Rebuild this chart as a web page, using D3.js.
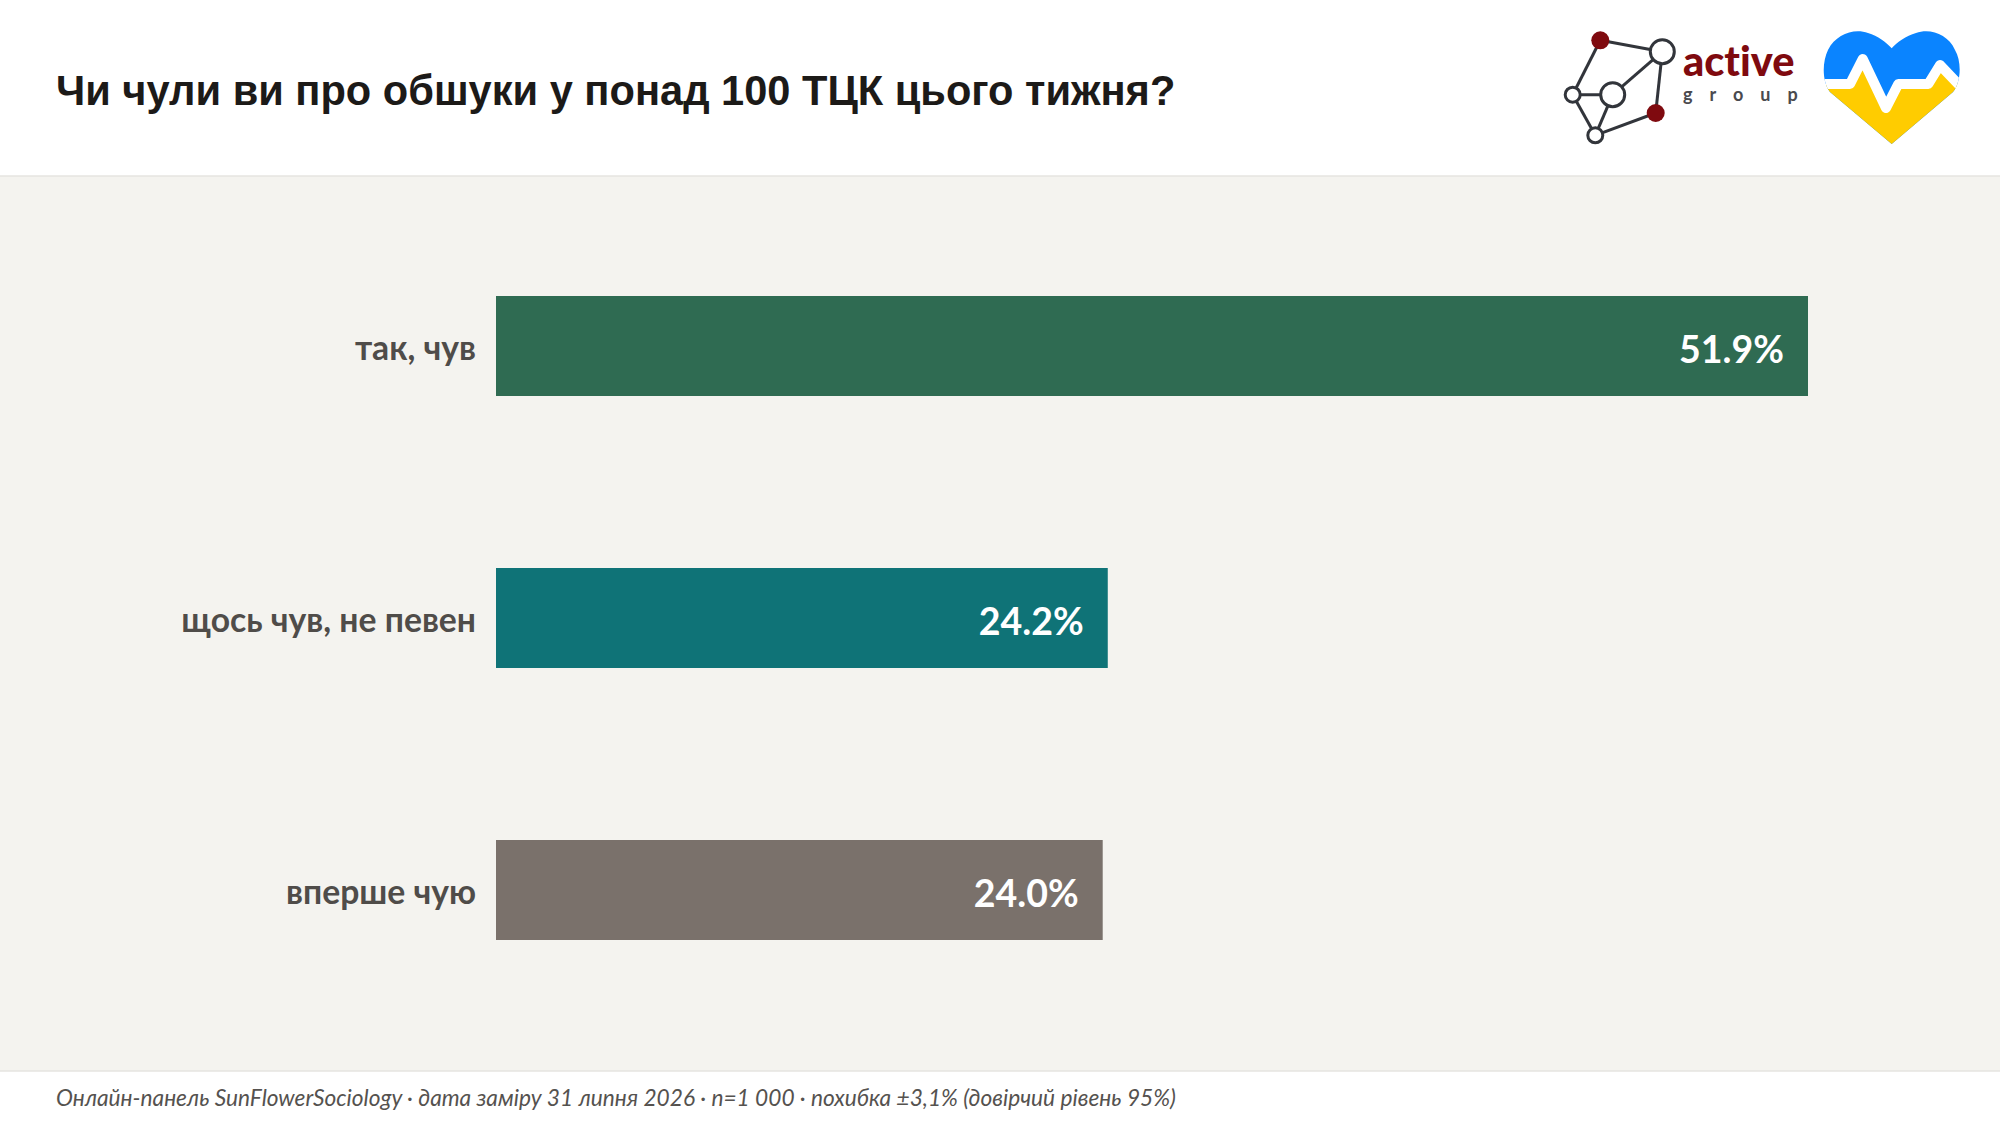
<!DOCTYPE html>
<html lang="uk">
<head>
<meta charset="utf-8">
<title>Чи чули ви про обшуки у понад 100 ТЦК цього тижня?</title>
<script src="https://cdn.jsdelivr.net/npm/d3@7"></script>
<style>
    html, body { margin: 0; padding: 0; background: #ffffff; }
    svg { display: block; }
    .title { font-family: "Liberation Sans", sans-serif; font-weight: 700; font-size: 41.6px; fill: #1c1a18; }
    .note { font-family: Lato, sans-serif; font-style: italic; font-size: 22.7px; fill: #55524f; }
    .cat-axis text { font-family: Lato, sans-serif; font-weight: 700; font-size: 33.7px; fill: #4f4c49; }
    .value { font-family: Lato, sans-serif; font-weight: 700; font-size: 37.5px; fill: #ffffff; }
</style>
</head>
<body>
<div id="chart"></div>
<script>
// chart data
var titleText = "Чи чули ви про обшуки у понад 100 ТЦК цього тижня?";
var noteText = "Онлайн-панель SunFlowerSociology · дата заміру 31 липня 2026 · n=1 000 · похибка ±3,1% (довірчий рівень 95%)";
var categories = ["так, чув", "щось чув, не певен", "вперше чую"];
var shares = [51.9, 24.2, 24.0];
var barColors = ["#2f6b52", "#0f7377", "#7a716b"];

// logo network
var logoNodes = [
    {id: "a", x: 1600.3, y: 40.3, r: 9, red: true},
    {id: "b", x: 1662.3, y: 51.7, r: 12, red: false},
    {id: "c", x: 1572.7, y: 94.7, r: 7.5, red: false},
    {id: "d", x: 1612.7, y: 94.7, r: 12, red: false},
    {id: "e", x: 1655.7, y: 113, r: 9, red: true},
    {id: "f", x: 1595.3, y: 135.3, r: 7.5, red: false}
];
var logoEdges = [["a", "b"], ["a", "c"], ["b", "d"], ["b", "e"], ["c", "d"], ["c", "f"], ["d", "f"], ["e", "f"]];
var pulsePoints = [[1820, 84], [1850, 84], [1862.7, 59], [1886, 108], [1898.3, 84], [1928.3, 84], [1940, 65], [1962, 88]];

var width = 2000, height = 1126;
var headerH = 176, footerY = 1071;
var margin = {left: 496, right: 192};

var svg = d3.select("#chart").append("svg")
    .attr("width", width)
    .attr("height", height);

// panels
svg.append("rect")
    .attr("x", 0).attr("y", headerH)
    .attr("width", width).attr("height", footerY - headerH)
    .attr("fill", "#f4f3ef");
svg.append("line")
    .attr("x1", 0).attr("x2", width)
    .attr("y1", headerH).attr("y2", headerH)
    .attr("stroke", "#e6e5e1").attr("stroke-width", 1.5);
svg.append("line")
    .attr("x1", 0).attr("x2", width)
    .attr("y1", footerY).attr("y2", footerY)
    .attr("stroke", "#e6e5e1").attr("stroke-width", 1.5);

svg.append("text").attr("class", "title")
    .attr("x", 56).attr("y", 105)
    .text(titleText);
svg.append("text").attr("class", "note")
    .attr("x", 56).attr("y", 1106)
    .text(noteText);

// scales
var x = d3.scaleLinear()
    .domain([0, d3.max(shares)])
    .range([margin.left, width - margin.right]);

var y = d3.scaleBand()
    .domain(categories)
    .range([210, 1026])
    .paddingInner(172 / 272)
    .paddingOuter(86 / 272);

var rows = categories.map(function(c, i) {
    return {cat: c, value: shares[i], color: barColors[i]};
});

svg.selectAll("rect.bar")
    .data(rows)
    .enter()
    .append("rect")
    .attr("class", "bar")
    .attr("x", x(0))
    .attr("y", function(d) { return y(d.cat); })
    .attr("width", function(d) { return x(d.value) - x(0); })
    .attr("height", y.bandwidth())
    .attr("fill", function(d) { return d.color; });

svg.selectAll("text.value")
    .data(rows)
    .enter()
    .append("text")
    .attr("class", "value")
    .attr("x", function(d) { return x(d.value) - 24; })
    .attr("y", function(d) { return y(d.cat) + y.bandwidth() / 2 + 3; })
    .attr("dy", "0.36em")
    .attr("text-anchor", "end")
    .text(function(d) { return d.value.toFixed(1) + "%"; });

// category labels
var axis = svg.append("g")
    .attr("class", "cat-axis")
    .attr("transform", "translate(" + x(0) + ",3)")
    .call(d3.axisLeft(y).tickSize(0).tickPadding(20));
axis.select(".domain").remove();

// active group logo
var logo = svg.append("g").attr("class", "logo");
var nodeById = {};
logoNodes.forEach(function(n) { nodeById[n.id] = n; });

logo.selectAll("line")
    .data(logoEdges)
    .enter()
    .append("line")
    .attr("x1", function(d) { return nodeById[d[0]].x; })
    .attr("y1", function(d) { return nodeById[d[0]].y; })
    .attr("x2", function(d) { return nodeById[d[1]].x; })
    .attr("y2", function(d) { return nodeById[d[1]].y; })
    .attr("stroke", "#32353b")
    .attr("stroke-width", 3);

logo.selectAll("circle")
    .data(logoNodes)
    .enter()
    .append("circle")
    .attr("cx", function(d) { return d.x; })
    .attr("cy", function(d) { return d.y; })
    .attr("r", function(d) { return d.r; })
    .attr("fill", function(d) { return d.red ? "#7f0a0f" : "#ffffff"; })
    .attr("stroke", function(d) { return d.red ? "none" : "#32353b"; })
    .attr("stroke-width", 3);

logo.append("text")
    .attr("x", 1683).attr("y", 76)
    .attr("font-family", "Lato, sans-serif")
    .attr("font-weight", 900)
    .attr("font-size", 41.5)
    .style("font-variant-ligatures", "none")
    .attr("fill", "#7f0a0f")
    .text("active");

logo.append("text")
    .attr("x", 1683).attr("y", 101)
    .attr("font-family", "Lato, sans-serif")
    .attr("font-weight", 700)
    .attr("font-size", 18)
    .attr("letter-spacing", "17px")
    .attr("fill", "#4a4a4e")
    .text("group");

// heart badge
var heartPath = "M1891.7,144 L1830,92 C1822,82 1822,62 1828,50 C1836,34 1854,28 1868,33 C1878,36 1886,42 1891.7,48.3 C1897,42 1906,36 1916,33 C1930,28 1948,34 1955,50 C1962,62 1961,82 1953,92 Z";
var defs = svg.append("defs");
defs.append("clipPath").attr("id", "heart-clip")
    .append("path").attr("d", heartPath);

var heart = svg.append("g").attr("clip-path", "url(#heart-clip)");
var pulse = d3.line();
heart.append("rect")
    .attr("x", 1815).attr("y", 25)
    .attr("width", 155).attr("height", 125)
    .attr("fill", "#0a84ff");
heart.append("path")
    .attr("d", pulse(pulsePoints) + " L1970,150 L1815,150 Z")
    .attr("fill", "#ffcc00");
heart.append("path")
    .attr("d", pulse(pulsePoints))
    .attr("fill", "none")
    .attr("stroke", "#ffffff")
    .attr("stroke-width", 10)
    .attr("stroke-linejoin", "round");
</script>
</body>
</html>
